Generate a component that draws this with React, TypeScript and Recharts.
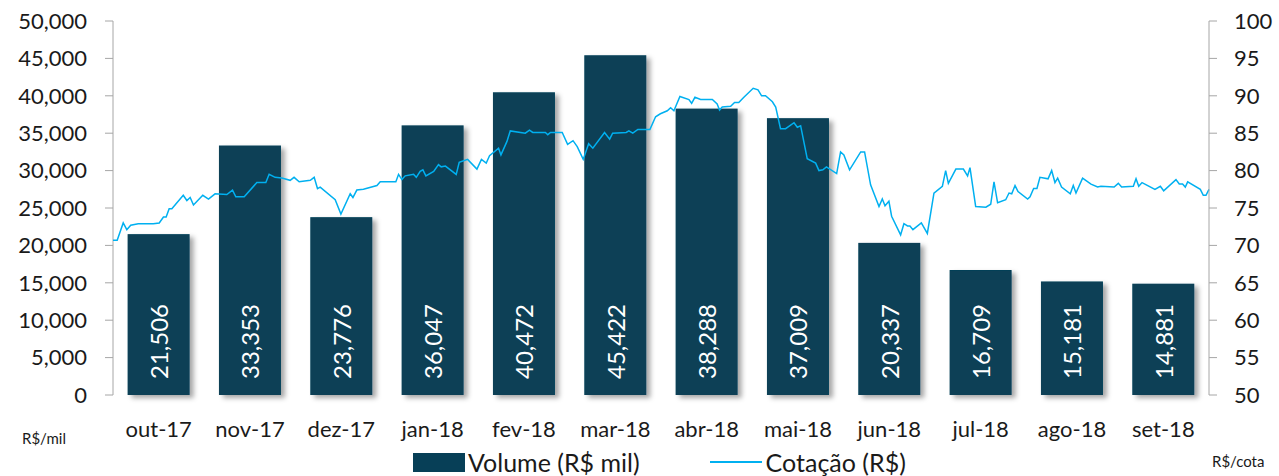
import { Bar, ComposedChart, LabelList, Line, LineChart, XAxis, YAxis } from "recharts";

// Volume mensal (barras) + cotação diária (linha) — out/17 a set/18
const months = [
  "out-17", "nov-17", "dez-17", "jan-18", "fev-18", "mar-18",
  "abr-18", "mai-18", "jun-18", "jul-18", "ago-18", "set-18",
];
const volume = [21506, 33353, 23776, 36047, 40472, 45422, 38288, 37009, 20337, 16709, 15181, 14881];

const volumeTicks = [0, 5000, 10000, 15000, 20000, 25000, 30000, 35000, 40000, 45000, 50000];
const priceTicks = [50, 55, 60, 65, 70, 75, 80, 85, 90, 95, 100];

// dias desde 01/out/2017 e cotação (R$)
const priceDays = [
  0, 1.4, 3.4, 4.6, 5.9, 8.4, 10.1, 11.8, 13.4, 15.4, 16.8, 17.7, 18.7, 19.6, 23.4, 24.6, 25.7, 26.8,
  29.9, 31.8, 34, 37.9, 39.8, 40.9, 43.7, 47.9, 50.9, 52, 54, 56.2, 59, 60.3, 62, 65.7, 67, 68.1, 69,
  74, 75.9, 79, 79.9, 81.2, 83.4, 87.9, 89, 94.2, 95.1, 96.2, 97.3, 100.1, 101, 102.3, 103.2, 104.2,
  106.8, 108.4, 109.3, 110.7, 114.3, 115.3, 118.1, 121.2, 122.7, 124.3, 125.4, 128.4, 129.2, 131.2,
  132.3, 137.3, 138.7, 139.8, 144, 144.8, 145.7, 149.6, 151.4, 153.2, 154.6, 156.6, 158.4, 159.8,
  163.7, 165.4, 166.4, 170.9, 171.8, 173.1, 174.8, 178.8, 180.7, 182.3, 184.6, 185.7, 186.8, 188.8,
  191.8, 192.7, 193.8, 195.7, 199.6, 201.2, 202, 202.9, 205.7, 207, 208.4, 210.1, 213.2, 214.8, 216,
  217.3, 219.6, 220.7, 222.3, 224, 226.8, 227.9, 229, 231.2, 234, 235.1, 236.4, 237.6, 241, 242.3,
  243.4, 245.3, 249, 250.3, 252.3, 255.1, 256.2, 257.1, 258.4, 259.3, 262.3, 263.4, 264.6, 265.4,
  266.4, 269.2, 271.2, 273.4, 276.2, 277.3, 278.2, 280.7, 283.2, 284.6, 285.4, 287.3, 290.7, 292.3,
  293.4, 294.6, 297.3, 298.4, 299.3, 300.4, 301.4, 304.6, 305.4, 306.6, 307.7, 308.7, 311.4, 312.6,
  313.7, 314.6, 315.9, 318.8, 319.8, 320.7, 322.9, 325.7, 327.9, 329, 333.4, 334.8, 335.9, 339.8,
  340.7, 341.6, 342.7, 347, 348.8, 349.9, 354, 355.1, 356.2, 357.1, 357.9, 362.1, 363.1, 364, 365,
];
const priceValues = [
  70.7, 70.7, 73.0, 72.1, 72.7, 72.9, 72.9, 72.9, 72.9, 73.0, 73.8, 73.8, 74.9, 74.9, 76.7, 76.0, 76.4, 75.4,
  76.7, 76.2, 76.9, 76.8, 77.4, 76.5, 76.5, 78.4, 78.4, 79.5, 79.1, 79.0, 78.7, 79.1, 78.5, 78.7, 79.1, 77.6, 77.8,
  76.1, 74.2, 76.9, 76.4, 77.4, 77.5, 78.0, 78.5, 78.5, 79.5, 78.8, 79.3, 79.5, 79.1, 79.9, 80.1, 79.3,
  79.9, 80.8, 80.5, 80.6, 79.5, 81.1, 81.5, 80.2, 81.5, 81.0, 82.0, 83.0, 82.1, 83.9,
  85.3, 85.0, 85.4, 85.1, 85.1, 84.8, 85.1, 85.1, 83.5, 84.0, 83.2, 81.5, 83.6, 83.0,
  85.1, 84.2, 85.0, 85.1, 85.3, 85.0, 85.5, 85.5, 87.2, 87.6, 88.0, 88.4, 88.0, 89.9,
  89.5, 89.0, 89.8, 89.5, 89.5, 88.9, 88.1, 88.5, 88.6, 89.1, 89.1, 89.8, 91.0, 90.8, 90.0,
  90.0, 89.2, 88.5, 85.6, 85.6, 86.4, 85.8, 86.0, 81.6, 81.0, 80.0, 80.1, 80.5, 79.6, 82.5,
  82.1, 80.1, 82.5, 82.5, 78.1, 75.2, 76.2, 75.3, 75.9, 73.9, 71.4, 72.9, 72.6, 72.6,
  72.1, 73.0, 71.6, 77.0, 77.9, 80.0, 78.3, 80.2, 80.2, 79.3, 80.4, 75.2, 75.1, 75.5,
  78.5, 75.7, 76.1, 77.0, 76.9, 78.0, 77.2, 76.2, 76.5, 77.6, 77.6, 79.1, 78.9, 80.0,
  78.4, 79.0, 77.8, 76.9, 78.0, 77.0, 79.0, 78.2, 77.8, 77.9, 77.8, 78.3, 77.8, 77.9,
  78.9, 77.9, 78.4, 77.5, 77.9, 77.3, 78.8, 78.2, 78.2, 77.8, 78.5, 77.5, 76.7, 76.7, 77.5,
];

const BAR = "#073f57";
const LINE = "#00b0f0";
const AXIS = "#a6a6a6";
const FONT = "Lato, sans-serif";
const W = 1279;
const H = 476;

const barData = months.map((month, i) => ({ month, volume: volume[i] }));
const lineData = priceDays.map((day, i) => ({ day, price: priceValues[i] }));
// divisões entre os meses no eixo X
const monthEdges = [...months.map((_, i) => (i * 365) / 12), 365];

const fmt = (v: number) => v.toLocaleString("en-US");

function BarValue(props: any) {
  const x = Number(props.x);
  const y = Number(props.y);
  const w = Number(props.width);
  const h = Number(props.height);
  const cx = x + w / 2;
  const by = y + h - 16;
  return (
    <text
      x={cx}
      y={by}
      transform={`rotate(-90 ${cx} ${by})`}
      textAnchor="start"
      dominantBaseline="central"
      fill="#fff"
      fontSize={24}
      fontFamily={FONT}
    >
      {fmt(Number(props.value))}
    </text>
  );
}

export default function App() {
  const tickStyle = { fill: "#1a1a1a", fontSize: 22, fontFamily: FONT };
  return (
    <div style={{ position: "absolute", left: 0, top: 0, width: W, height: H, fontFamily: FONT, background: "#fff" }}>
      <svg width={0} height={0} style={{ position: "absolute" }}>
        <defs>
          <filter id="barShadow" x="-20%" y="-10%" width="150%" height="130%">
            <feDropShadow dx={4} dy={3} stdDeviation={2.5} floodColor="#000" floodOpacity={0.35} />
          </filter>
        </defs>
      </svg>

      <div style={{ position: "absolute", left: 0, top: 0 }}>
        <ComposedChart width={W} height={H} data={barData} margin={{ top: 21, right: 70, bottom: 0, left: 0 }} barCategoryGap="16%">
          <XAxis
            dataKey="month"
            height={81}
            axisLine={false}
            tickLine={false}
            tickSize={0}
            tickMargin={26}
            tick={tickStyle}
            interval={0}
          />
          <YAxis
            width={113}
            domain={[0, 50000]}
            ticks={volumeTicks}
            tickFormatter={fmt}
            axisLine={{ stroke: AXIS }}
            tickLine={{ stroke: AXIS }}
            tickSize={8}
            tickMargin={18}
            tick={tickStyle}
            interval={0}
          />
          <Bar
            dataKey="volume"
            name="Volume (R$ mil)"
            fill={BAR}
            isAnimationActive={false}
            shape={(p: any) => (
              <rect x={p.x} y={p.y} width={p.width} height={p.height} fill={BAR} filter="url(#barShadow)" />
            )}
          >
            <LabelList dataKey="volume" content={BarValue} />
          </Bar>
        </ComposedChart>
      </div>

      <div style={{ position: "absolute", left: 0, top: 0 }}>
        <LineChart width={W} height={H} data={lineData} margin={{ top: 21, right: 0, bottom: 81, left: 113 }}>
          <XAxis
            dataKey="day"
            type="number"
            domain={[0, 365]}
            ticks={monthEdges}
            tickFormatter={() => ""}
            height={0}
            axisLine={{ stroke: AXIS }}
            tickLine={{ stroke: AXIS }}
            tickSize={8}
            interval={0}
          />
          <YAxis
            yAxisId="price"
            orientation="right"
            width={70}
            domain={[50, 100]}
            ticks={priceTicks}
            axisLine={{ stroke: AXIS }}
            tickLine={{ stroke: AXIS }}
            tickSize={8}
            tickMargin={17}
            tick={{ ...tickStyle, textAnchor: "start" }}
            interval={0}
          />
          <Line
            yAxisId="price"
            dataKey="price"
            name="Cotação (R$)"
            stroke={LINE}
            strokeWidth={1.5}
            dot={false}
            type="linear"
            isAnimationActive={false}
          />
        </LineChart>
      </div>

      <div style={{ position: "absolute", left: 22, top: 429, fontSize: 15, color: "#1a1a1a" }}>R$/mil</div>
      <div style={{ position: "absolute", left: 1212, top: 452, fontSize: 15, color: "#1a1a1a" }}>R$/cota</div>

      <div style={{ position: "absolute", left: 413, top: 447, display: "flex", alignItems: "center", fontSize: 25, color: "#1a1a1a", whiteSpace: "nowrap" }}>
        <span style={{ display: "inline-block", width: 52, height: 19, background: BAR, marginRight: 3 }} />
        <span>Volume (R$ mil)</span>
        <span style={{ display: "inline-block", width: 52, height: 2, background: LINE, marginLeft: 70, marginRight: 4 }} />
        <span>Cotação (R$)</span>
      </div>
    </div>
  );
}
